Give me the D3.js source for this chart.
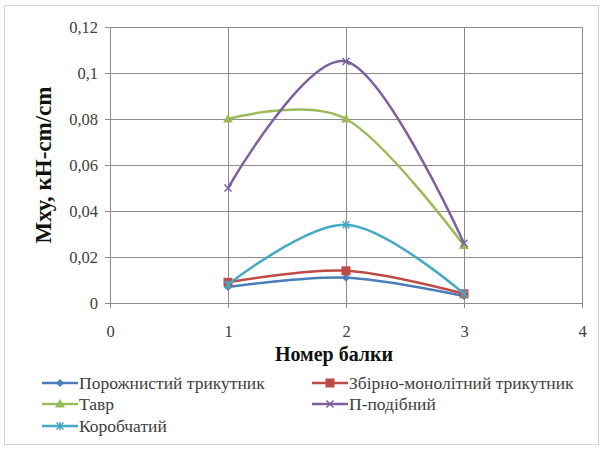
<!DOCTYPE html>
<html>
<head>
<meta charset="utf-8">
<script src="https://cdn.jsdelivr.net/npm/d3@7"></script>
<style>
  html, body { margin: 0; padding: 0; background: #fff; }
  svg { display: block; }
</style>
</head>
<body>
<svg id="chart" width="608" height="455"></svg>
<script>
// Beam numbers on the x axis
const beams = [1, 2, 3];

// Mxy values per cross-section type
const hollowTriangle = [0.007, 0.011, 0.003];
const precastTriangle = [0.009, 0.014, 0.004];
const teeBeam = [0.080, 0.080, 0.025];
const piBeam = [0.050, 0.105, 0.026];
const boxBeam = [0.008, 0.034, 0.004];

// Axis ticks and their labels
const xTicks = [0, 1, 2, 3, 4];
const yTicks = [0, 0.02, 0.04, 0.06, 0.08, 0.1, 0.12];
const yTickLabels = ["0", "0,02", "0,04", "0,06", "0,08", "0,1", "0,12"];

const seriesNames = [
  "Порожнистий трикутник",
  "Збірно-монолітний трикутник",
  "Тавр",
  "П-подібний",
  "Коробчатий"
];

const series = [
  { name: seriesNames[0], values: hollowTriangle, color: "#4a7ebb", marker: "diamond" },
  { name: seriesNames[1], values: precastTriangle, color: "#be4b48", marker: "square" },
  { name: seriesNames[2], values: teeBeam, color: "#9bbb59", marker: "triangle" },
  { name: seriesNames[3], values: piBeam, color: "#7d60a0", marker: "cross" },
  { name: seriesNames[4], values: boxBeam, color: "#46aac5", marker: "star" }
];

const serif = "'Liberation Serif', 'Times New Roman', serif";

const svg = d3.select("#chart");
const gridColor = "#8c8c8c";

// Chart frame
svg.append("rect")
  .attr("x", 4.5).attr("y", 5.5).attr("width", 594).attr("height", 439)
  .attr("fill", "#fff").attr("stroke", "#d4d4d4").attr("stroke-width", 1);

const plot = { left: 110, right: 582, top: 27, bottom: 303 };

const x = d3.scaleLinear().domain([0, 4]).range([plot.left, plot.right]);
const y = d3.scaleLinear().domain([0, 0.12]).range([plot.bottom, plot.top]);

// Horizontal gridlines with outer tick marks
const yAxis = d3.axisLeft(y)
  .tickValues(yTicks)
  .tickSize(-(plot.right - plot.left))
  .tickSizeOuter(0)
  .tickFormat((d, i) => yTickLabels[i]);

const gy = svg.append("g")
  .attr("transform", `translate(${plot.left},0)`)
  .call(yAxis)
  .attr("font-family", serif);
gy.select(".domain").remove();
gy.selectAll(".tick line")
  .attr("x1", -5)
  .attr("stroke", gridColor).attr("stroke-width", 1);
gy.selectAll(".tick text")
  .attr("x", -12)
  .attr("font-size", 16.5)
  .attr("fill", "#404040");

// Vertical gridlines with outer tick marks
const xAxis = d3.axisBottom(x)
  .tickValues(xTicks)
  .tickSize(-(plot.bottom - plot.top))
  .tickSizeOuter(0)
  .tickFormat(d3.format("d"));

const gx = svg.append("g")
  .attr("transform", `translate(0,${plot.bottom})`)
  .call(xAxis)
  .attr("font-family", serif);
gx.select(".domain").remove();
gx.selectAll(".tick line")
  .attr("y1", 5)
  .attr("stroke", gridColor).attr("stroke-width", 1);
gx.selectAll(".tick text")
  .attr("y", 22)
  .attr("font-size", 16.5)
  .attr("fill", "#404040");

// Axis titles
svg.append("text")
  .attr("x", 334)
  .attr("y", 361)
  .attr("text-anchor", "middle")
  .attr("font-family", serif)
  .attr("font-size", 20)
  .attr("font-weight", "bold")
  .attr("fill", "#111")
  .text("Номер балки");

svg.append("text")
  .attr("transform", `translate(51,${(plot.top + plot.bottom) / 2}) rotate(-90)`)
  .attr("text-anchor", "middle")
  .attr("font-family", serif)
  .attr("font-size", 23)
  .attr("font-weight", "bold")
  .attr("fill", "#111")
  .text("Мху, кН-cm/cm");

// Marker shapes
function drawMarker(g, type, color, size) {
  const s = size;
  if (type === "diamond") {
    g.append("path").attr("d", `M0,${-s}L${s},0L0,${s}L${-s},0Z`).attr("fill", color);
  } else if (type === "square") {
    g.append("rect").attr("x", -s).attr("y", -s).attr("width", 2 * s).attr("height", 2 * s).attr("fill", color);
  } else if (type === "triangle") {
    g.append("path").attr("d", `M0,${-s * 1.1}L${s * 1.1},${s * 0.8}L${-s * 1.1},${s * 0.8}Z`).attr("fill", color);
  } else if (type === "cross") {
    g.append("path").attr("d", `M${-s},${-s}L${s},${s}M${-s},${s}L${s},${-s}`)
      .attr("stroke", color).attr("stroke-width", 1.5);
  } else if (type === "star") {
    g.append("path").attr("d", `M${-s},${-s}L${s},${s}M${-s},${s}L${s},${-s}M0,${-s * 1.2}L0,${s * 1.2}`)
      .attr("stroke", color).attr("stroke-width", 1.5);
  }
}

const markerSize = { diamond: 4, square: 4.5, triangle: 4.5, cross: 3.5, star: 3.5 };

const line = d3.line()
  .x((d, i) => x(beams[i]))
  .y(d => y(d))
  .curve(d3.curveCardinal.tension(0));

const gSeries = svg.append("g");
series.forEach(s => {
  const g = gSeries.append("g");
  g.append("path")
    .attr("d", line(s.values))
    .attr("fill", "none")
    .attr("stroke", s.color)
    .attr("stroke-width", 2.5)
    .attr("stroke-linejoin", "round");
  s.values.forEach((v, i) => {
    const m = g.append("g").attr("transform", `translate(${x(beams[i])},${y(v)})`);
    drawMarker(m, s.marker, s.color, markerSize[s.marker]);
  });
});

// Legend in two columns
const legendPos = [
  { x: 42, y: 383 },
  { x: 312, y: 383 },
  { x: 42, y: 404 },
  { x: 312, y: 404 },
  { x: 42, y: 426 }
];
series.forEach((s, i) => {
  const p = legendPos[i];
  const g = svg.append("g").attr("transform", `translate(${p.x},${p.y})`);
  g.append("line").attr("x1", 0).attr("x2", 36).attr("y1", 0).attr("y2", 0)
    .attr("stroke", s.color).attr("stroke-width", 2.5);
  const m = g.append("g").attr("transform", "translate(18,0)");
  drawMarker(m, s.marker, s.color, markerSize[s.marker]);
  g.append("text")
    .attr("x", 37).attr("y", 5.5)
    .attr("font-family", serif)
    .attr("font-size", 17.5)
    .attr("fill", "#404040")
    .text(s.name);
});
</script>
</body>
</html>
